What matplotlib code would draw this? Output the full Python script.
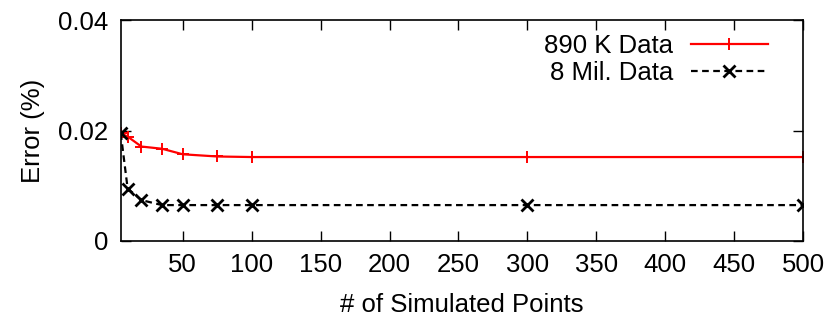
import matplotlib
matplotlib.use("Agg")
import matplotlib.pyplot as plt

plt.rcParams['font.family'] = ['Liberation Sans', 'DejaVu Sans']

# --- data ---
points = [5, 10, 20, 35, 50, 75, 100, 300, 500]
err_890k = [0.0195, 0.0189, 0.0171, 0.0167, 0.0157, 0.0153, 0.0152, 0.0152, 0.0152]
err_8mil = [0.0195, 0.0095, 0.0074, 0.0065, 0.0065, 0.0065, 0.0065, 0.0065, 0.0065]

xticks = [50, 100, 150, 200, 250, 300, 350, 400, 450, 500]
yticks = [0, 0.02, 0.04]
ytick_labels = ['0', '0.02', '0.04']

fig = plt.figure(figsize=(8.35, 3.29), dpi=100)
ax = fig.add_axes([0.1446, 0.2675, 0.8171, 0.6715])

ax.plot(points, err_890k, color='red', linewidth=1.6, marker='+',
        markersize=9, markeredgewidth=1.4, label='890 K Data')
ax.plot(points, err_8mil, color='black', linewidth=1.6, linestyle=(0, (3, 2)),
        marker='x', markersize=8, markeredgewidth=2, label='8 Mil. Data')

ax.set_xlim(5, 500)
ax.set_ylim(0, 0.04)
ax.set_xticks(xticks)
ax.set_yticks(yticks)
ax.set_yticklabels(ytick_labels)
ax.tick_params(direction='in', length=7, width=1, labelsize=18.5,
               top=True, right=True, pad=9)
for s in ax.spines.values():
    s.set_linewidth(1.2)

ax.set_xlabel('# of Simulated Points', fontsize=18.5, labelpad=11)
ax.set_ylabel('Error (%)', fontsize=18.5, labelpad=9)

ax.legend(loc='upper right', frameon=False, markerfirst=False, fontsize=18.5,
          handlelength=3.0, handletextpad=0.7, labelspacing=0.12,
          borderaxespad=0.3, bbox_to_anchor=(0.975, 1.02))

fig.savefig('out.png', dpi=100)
